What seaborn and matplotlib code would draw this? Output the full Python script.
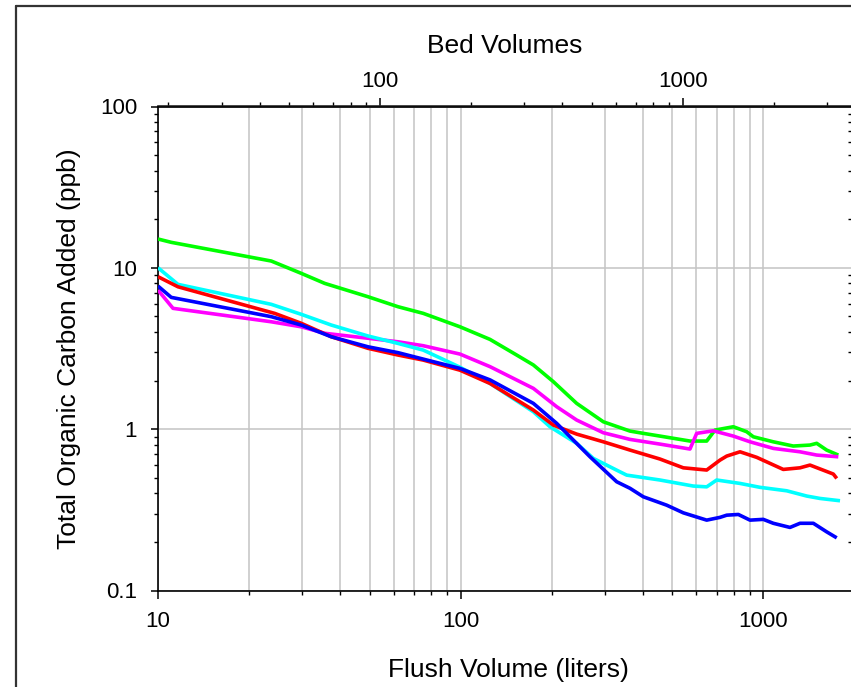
import matplotlib
matplotlib.use("Agg")
import matplotlib.pyplot as plt
from matplotlib.lines import Line2D
from matplotlib.ticker import FixedLocator, NullFormatter, LogLocator
import numpy as np
import pandas as pd
import seaborn as sns

# ---------------- data (flush volume in liters, TOC added in ppb) ----------------
green_x = [10, 11.06, 23.67, 29.74, 35.54, 49.41, 62.08, 75.23, 99.47, 125.0, 153.1, 173.8,
           202.3, 241.6, 295.9, 362.5, 401.1, 455.2, 572, 649.6, 692, 795.5, 880.8, 926.2,
           1078, 1255, 1425, 1500, 1618, 1768]
green_y = [15.09, 14.39, 11.02, 9.24, 8.01, 6.62, 5.74, 5.22, 4.31, 3.60, 2.88, 2.50,
           1.97, 1.445, 1.111, 0.973, 0.942, 0.906, 0.844, 0.844, 0.987, 1.035, 0.964, 0.897,
           0.835, 0.786, 0.797, 0.817, 0.742, 0.691]

magenta_x = [10, 11.21, 23.67, 29.74, 35.54, 49.41, 62.08, 75.23, 99.47, 125.0, 173.8, 207.6,
             241.6, 295.9, 362.5, 455.2, 572, 602, 683.1, 795.5, 903.2, 1078, 1321, 1500, 1768]
magenta_y = [7.28, 5.61, 4.63, 4.31, 3.93, 3.66, 3.48, 3.29, 2.92, 2.44, 1.79, 1.377,
             1.139, 0.950, 0.864, 0.808, 0.753, 0.942, 0.977, 0.906, 0.835, 0.760, 0.724, 0.691, 0.674]

cyan_x = [10, 11.64, 23.67, 29.74, 37.36, 49.41, 62.08, 75.23, 99.47, 125.0, 173.8, 197.2,
          241.6, 274.2, 335.9, 353.5, 455.2, 586.6, 649.6, 701, 837, 974.3, 1194, 1390, 1538, 1791]
cyan_y = [10.01, 7.90, 5.94, 5.15, 4.42, 3.78, 3.40, 3.09, 2.42, 1.92, 1.282, 1.035,
          0.817, 0.659, 0.544, 0.519, 0.484, 0.444, 0.439, 0.484, 0.461, 0.436, 0.415, 0.385, 0.372, 0.360]

red_x = [10, 11.64, 24.30, 29.74, 37.36, 49.41, 62.08, 75.23, 99.47, 125.0, 173.8, 202.3,
         241.6, 295.9, 362.5, 455.2, 543.7, 649.6, 718.8, 756.5, 837, 950.1, 1163, 1321, 1425, 1702, 1747]
red_y = [8.81, 7.63, 5.22, 4.53, 3.74, 3.17, 2.88, 2.68, 2.32, 1.92, 1.313, 1.060,
         0.932, 0.835, 0.742, 0.653, 0.576, 0.558, 0.643, 0.681, 0.724, 0.669, 0.563, 0.576, 0.599, 0.527, 0.495]

blue_x = [10, 11.06, 23.67, 29.74, 37.36, 49.41, 62.08, 81.20, 99.47, 125.0, 173.8, 207.6,
          267.4, 327.6, 362.5, 401.1, 479.1, 543.7, 649.6, 718.8, 756.5, 826.3, 903.2, 999.1,
          1078, 1224, 1321, 1462, 1618, 1747]
blue_y = [7.71, 6.56, 4.98, 4.42, 3.74, 3.24, 2.98, 2.62, 2.38, 2.02, 1.445, 1.086,
          0.674, 0.472, 0.430, 0.381, 0.338, 0.303, 0.273, 0.284, 0.293, 0.296, 0.273, 0.276,
          0.261, 0.246, 0.261, 0.261, 0.231, 0.212]

series_order = ["green", "magenta", "cyan", "red", "blue"]
series_colors = {"green": "#00FF00", "magenta": "#FF00FF", "cyan": "#00FFFF",
                 "red": "#FF0000", "blue": "#0000FF"}
series_data = {"green": (green_x, green_y), "magenta": (magenta_x, magenta_y),
               "cyan": (cyan_x, cyan_y), "red": (red_x, red_y), "blue": (blue_x, blue_y)}

x_major = [10, 100, 1000]
x_major_labels = ["10", "100", "1000"]
y_major = [0.1, 1, 10, 100]
y_major_labels = ["0.1", "1", "10", "100"]
bv_major = [100, 1000]
bv_major_labels = ["100", "1000"]
BV_PER_LITER = 1.848

# ---------------- style ----------------
sns.set_theme(style="ticks")
plt.rcParams["font.family"] = ["Liberation Sans", "DejaVu Sans"]

W, H = 851, 687
fig = plt.figure(figsize=(W / 100, H / 100), dpi=100)
fig.patch.set_facecolor("white")
ax = fig.add_axes([158 / W, (H - 590.5) / H, (W - 158) / W, 484 / H])

rows = []
for name in series_order:
    xs, ys = series_data[name]
    for i, (xv, yv) in enumerate(zip(xs, ys)):
        rows.append({"series": name, "order": i, "liters": xv, "toc": yv})
df = pd.DataFrame(rows)

for name in series_order:
    sub = df[df["series"] == name]
    sns.lineplot(data=sub, x="liters", y="toc", color=series_colors[name],
                 linewidth=2.6, sort=False, estimator=None, ax=ax, legend=False,
                 solid_joinstyle="round", solid_capstyle="butt", zorder=3)

ax.set_xscale("log")
ax.set_yscale("log")
ax.set_xlim(10, 1947)
ax.set_ylim(0.1, 100)

ax.xaxis.set_major_locator(FixedLocator(x_major))
ax.set_xticklabels(x_major_labels)
ax.xaxis.set_minor_locator(LogLocator(base=10, subs=np.arange(2, 10)))
ax.xaxis.set_minor_formatter(NullFormatter())
ax.yaxis.set_major_locator(FixedLocator(y_major))
ax.set_yticklabels(y_major_labels)
ax.yaxis.set_minor_locator(LogLocator(base=10, subs=np.arange(2, 10)))
ax.yaxis.set_minor_formatter(NullFormatter())

ax.grid(True, which="both", axis="x", color="#C4C4C4", linewidth=1.1, zorder=0)
ax.grid(True, which="major", axis="y", color="#C4C4C4", linewidth=1.1, zorder=0)
ax.set_axisbelow(True)

for s in ["left", "bottom", "top"]:
    ax.spines[s].set_color("black")
    ax.spines[s].set_linewidth(1.2)
ax.spines["right"].set_visible(False)

ax.tick_params(axis="x", which="major", direction="out", length=5.5, width=1.1,
               labelsize=16, pad=9, colors="black", top=False)
ax.tick_params(axis="x", which="minor", direction="out", length=3, width=1.0,
               top=False, colors="black")
ax.tick_params(axis="y", which="major", direction="out", length=5, width=1.1,
               labelsize=16, pad=10, colors="black", right=False)
ax.tick_params(axis="y", which="minor", direction="out", length=3, width=1.0,
               colors="black", right=False)

ax.set_xlabel("Flush Volume (liters)", fontsize=19, color="black")
ax.xaxis.set_label_coords(0.505, -0.14)
ax.set_ylabel("Total Organic Carbon Added (ppb)", fontsize=19, color="black")
ax.yaxis.set_label_coords(-0.111, 0.5)

# right edge: inward minor ticks only
secy = ax.secondary_yaxis("right")
secy.spines["right"].set_visible(False)
secy.yaxis.set_major_locator(FixedLocator([]))
secy.yaxis.set_minor_locator(LogLocator(base=10, subs=np.arange(2, 10)))
secy.yaxis.set_minor_formatter(NullFormatter())
secy.tick_params(axis="y", which="minor", direction="in", length=2.5, width=1.0,
                 colors="black")

secax = ax.secondary_xaxis("top", functions=(lambda l: l * BV_PER_LITER,
                                             lambda b: b / BV_PER_LITER))
secax.xaxis.set_major_locator(FixedLocator(bv_major))
secax.set_xticklabels(bv_major_labels)
secax.xaxis.set_minor_locator(LogLocator(base=10, subs=np.arange(2, 10)))
secax.xaxis.set_minor_formatter(NullFormatter())
secax.tick_params(axis="x", which="major", direction="out", length=5.5, width=1.1,
                  labelsize=16, pad=5, colors="black")
secax.tick_params(axis="x", which="minor", direction="out", length=3, width=1.0,
                  colors="black")
secax.spines["top"].set_linewidth(1.2)
secax.set_xlabel("Bed Volumes", fontsize=19, color="black", labelpad=13)

# outer frame of the original figure (partially visible)
fig.add_artist(Line2D([15.7 / W, 1.0], [1 - 6.3 / H, 1 - 6.3 / H],
                      transform=fig.transFigure, color="#333333", linewidth=1.6))
fig.add_artist(Line2D([15.7 / W, 15.7 / W], [0.0, 1 - 6.3 / H],
                      transform=fig.transFigure, color="#333333", linewidth=1.6))

fig.savefig("out.png", dpi=100)
